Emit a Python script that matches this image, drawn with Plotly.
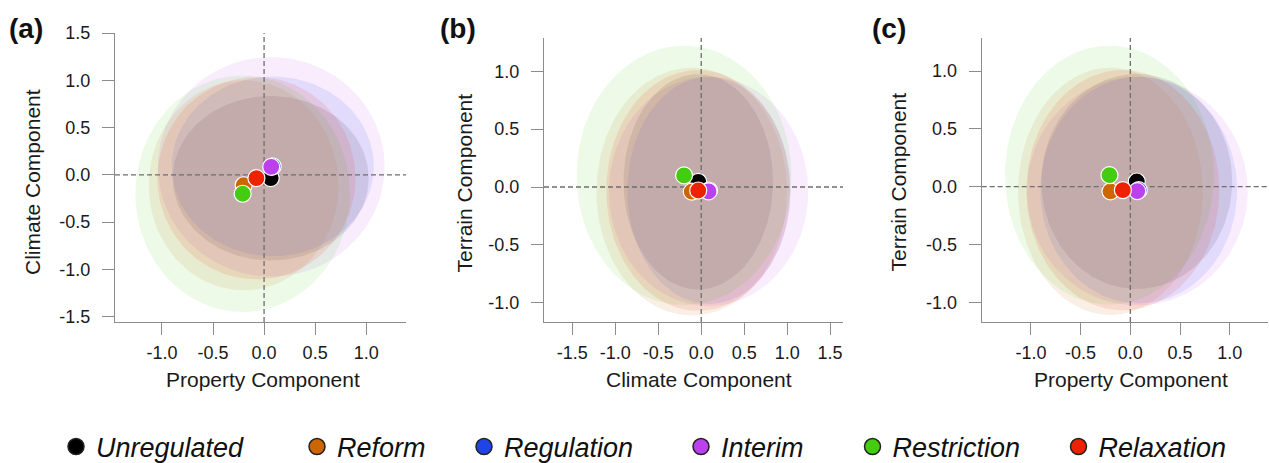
import numpy as np
import plotly.graph_objects as go

# ---------------- data ----------------
groups = ["Unregulated", "Reform", "Regulation", "Interim", "Restriction", "Relaxation"]
colors = ["#000000", "#CC6600", "#1F45E8", "#BB40EE", "#44CC11", "#EE2200"]

property_mean = [0.065, -0.20, 0.085, 0.07, -0.21, -0.075]
climate_mean = [-0.035, -0.11, 0.09, 0.085, -0.20, -0.035]
terrain_mean = [0.045, -0.04, -0.03, -0.038, 0.10, -0.03]

property_spread = [0.96, 0.93, 0.99, 1.11, 1.05, 0.97]
climate_spread = [0.87, 1.11, 0.95, 1.16, 1.25, 1.07]
terrain_spread = [0.93, 1.07, 0.98, 0.99, 1.12, 1.04]

ticks_a_x = [-1.0, -0.5, 0.0, 0.5, 1.0]
ticks_a_y = [-1.5, -1.0, -0.5, 0.0, 0.5, 1.0, 1.5]
ticks_b_x = [-1.5, -1.0, -0.5, 0.0, 0.5, 1.0, 1.5]
ticks_b_y = [-1.0, -0.5, 0.0, 0.5, 1.0]
ticks_c_x = [-1.0, -0.5, 0.0, 0.5, 1.0]
ticks_c_y = [-1.0, -0.5, 0.0, 0.5, 1.0]

panel_labels = ["(a)", "(b)", "(c)"]
x_titles = ["Property Component", "Climate Component", "Property Component"]
y_titles = ["Climate Component", "Terrain Component", "Terrain Component"]

# ---------------- layout geometry ----------------
W, H = 1269, 463
FONT = "Liberation Sans, Arial, Helvetica, sans-serif"
AXC = "#8c8c8c"
TXT = "#1a1a1a"


def fx(px):
    return px / W


def fy(py):
    return 1 - py / H


panels = [
    dict(xd=[fx(115), fx(406)], yd=[fy(322), fy(33)], xr=[-1.46, 1.39], yr=[-1.556, 1.5],
         xt=ticks_a_x, yt=ticks_a_y, xs=property_mean, ys=climate_mean,
         xw=property_spread, yw=climate_spread),
    dict(xd=[fx(544), fx(843)], yd=[fy(322), fy(38)], xr=[-1.83, 1.65], yr=[-1.166, 1.287],
         xt=ticks_b_x, yt=ticks_b_y, xs=climate_mean, ys=terrain_mean,
         xw=climate_spread, yw=terrain_spread),
    dict(xd=[fx(981.7), fx(1268)], yd=[fy(322), fy(38)], xr=[-1.495, 1.385], yr=[-1.171, 1.287],
         xt=ticks_c_x, yt=ticks_c_y, xs=property_mean, ys=terrain_mean,
         xw=property_spread, yw=terrain_spread),
]


def rgba(hexc, a):
    h = hexc.lstrip("#")
    r, g, b = int(h[0:2], 16), int(h[2:4], 16), int(h[4:6], 16)
    return f"rgba({r},{g},{b},{a})"


fig = go.Figure()
theta = np.linspace(0, 2 * np.pi, 181)

for k, p in enumerate(panels):
    xa = "x" if k == 0 else f"x{k+1}"
    ya = "y" if k == 0 else f"y{k+1}"
    # ellipses
    for i, g in enumerate(groups):
        ex = p["xs"][i] + p["xw"][i] * np.cos(theta)
        ey = p["ys"][i] + p["yw"][i] * np.sin(theta)
        fig.add_trace(go.Scatter(x=ex, y=ey, mode="lines", fill="toself",
                                 fillcolor=rgba(colors[i], 0.10), line=dict(width=0),
                                 hoverinfo="skip", showlegend=False, xaxis=xa, yaxis=ya))
    # zero reference lines
    fig.add_trace(go.Scatter(x=p["xr"], y=[0, 0], mode="lines",
                             line=dict(color="#6e6e6e", width=1.3, dash="5px,3px"),
                             hoverinfo="skip", showlegend=False, xaxis=xa, yaxis=ya))
    fig.add_trace(go.Scatter(x=[0, 0], y=p["yr"], mode="lines",
                             line=dict(color="#6e6e6e", width=1.3, dash="5px,3px"),
                             hoverinfo="skip", showlegend=False, xaxis=xa, yaxis=ya))
    # means
    for i, g in enumerate(groups):
        fig.add_trace(go.Scatter(x=[p["xs"][i]], y=[p["ys"][i]], mode="markers", name=g,
                                 marker=dict(size=17, color=colors[i],
                                             line=dict(color="white", width=1.2)),
                                 showlegend=False, xaxis=xa, yaxis=ya))

# legend entries (one legend per entry for R-like spacing)
legend_centers = [75, 316, 483, 700, 871.5, 1077.5]
legend_layout = {}
for i, g in enumerate(groups):
    lname = "legend" if i == 0 else f"legend{i+1}"
    fig.add_trace(go.Scatter(x=[None], y=[None], mode="markers", name=g,
                             marker=dict(size=16, color=colors[i], line=dict(color="#222222", width=1.5)),
                             legend=lname, showlegend=True, xaxis="x", yaxis="y"))
    legend_layout[lname] = dict(
        x=fx(legend_centers[i] - 19), y=fy(447), xanchor="left", yanchor="middle",
        orientation="h", bgcolor="rgba(0,0,0,0)", borderwidth=0,
        font=dict(family=FONT, size=27, style="italic", color="#111111"),
        itemwidth=30,
    )


def axis(domain, rng, ticks, anchor, standoff):
    return dict(domain=domain, range=rng, tickvals=ticks,
                ticktext=[f"{t:.1f}" for t in ticks],
                showline=True, linecolor=AXC, linewidth=1.3,
                ticks="outside", ticklen=12, tickwidth=1.3, tickcolor=AXC,
                ticklabelstandoff=standoff, automargin=False,
                showgrid=False, zeroline=False, anchor=anchor,
                tickfont=dict(family=FONT, size=18, color=TXT))


layout = dict(width=W, height=H, margin=dict(l=0, r=0, t=0, b=0, autoexpand=False),
              paper_bgcolor="white", plot_bgcolor="rgba(0,0,0,0)")
for k, p in enumerate(panels):
    xn = "xaxis" if k == 0 else f"xaxis{k+1}"
    yn = "yaxis" if k == 0 else f"yaxis{k+1}"
    xa = "x" if k == 0 else f"x{k+1}"
    ya = "y" if k == 0 else f"y{k+1}"
    layout[xn] = axis(p["xd"], p["xr"], p["xt"], ya, 2)
    layout[yn] = axis(p["yd"], p["yr"], p["yt"], xa, 8)
layout.update(legend_layout)
fig.update_layout(**layout)

# panel labels and axis titles
label_x = [25.5, 458, 889]
xt_centers = [263, 699, 1131]
yt_centers = [32.5, 464, 898]
for k in range(3):
    fig.add_annotation(text=f"<b>{panel_labels[k]}</b>", x=fx(label_x[k]), y=fy(28),
                       xref="paper", yref="paper", showarrow=False,
                       xanchor="center", yanchor="middle",
                       font=dict(family=FONT, size=28, color="#111111"))
    fig.add_annotation(text=x_titles[k], x=fx(xt_centers[k]), y=fy(379),
                       xref="paper", yref="paper", showarrow=False,
                       xanchor="center", yanchor="middle",
                       font=dict(family=FONT, size=21, color=TXT))
    fig.add_annotation(text=y_titles[k], x=fx(yt_centers[k]), y=fy(182.5),
                       xref="paper", yref="paper", showarrow=False, textangle=-90,
                       xanchor="center", yanchor="middle",
                       font=dict(family=FONT, size=21, color=TXT))

fig.write_html("out.html", config={"displayModeBar": False},
               post_script="document.body.style.margin='0px';document.body.style.overflow='hidden';")
